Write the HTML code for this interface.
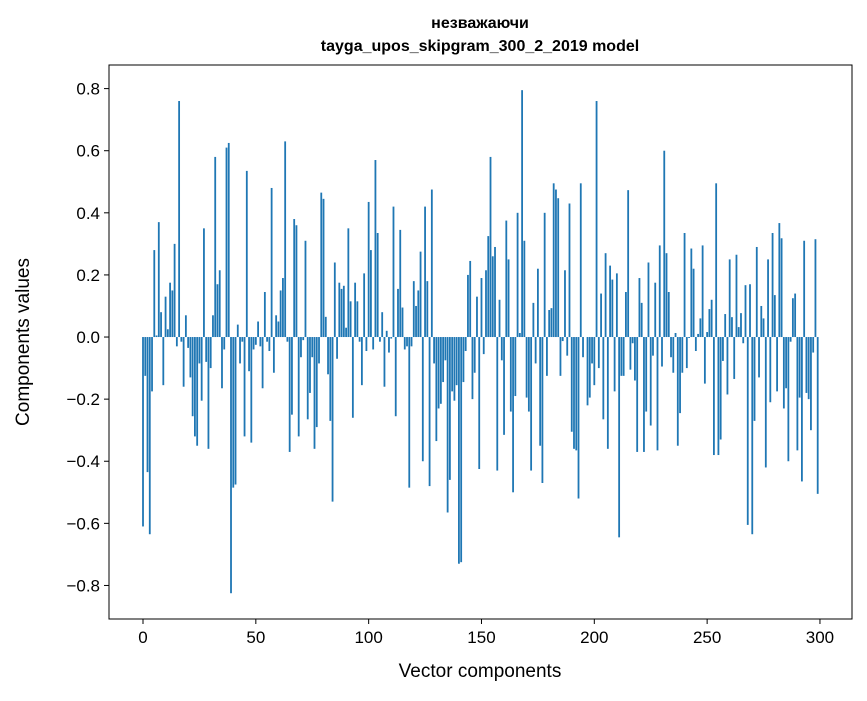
<!DOCTYPE html>
<html><head><meta charset="utf-8">
<style>
html,body{margin:0;padding:0;background:#fff;}
svg text{font-family:"Liberation Sans","DejaVu Sans",sans-serif;fill:#000;}
</style></head>
<body>
<svg id="chart" width="867" height="696" viewBox="0 0 867 696" xmlns="http://www.w3.org/2000/svg">
<rect x="0" y="0" width="867" height="696" fill="#fff"/>
<text x="480" y="28" text-anchor="middle" font-size="16" font-weight="bold">незважаючи</text>
<text x="480" y="51" text-anchor="middle" font-size="16" font-weight="bold">tayga_upos_skipgram_300_2_2019 model</text>
<g id="bars"></g>
<g id="xticks"></g>
<g id="yticks"></g>
<rect x="109" y="65" width="743" height="554" fill="none" stroke="#000" stroke-width="1"/>
<text x="480" y="677" text-anchor="middle" font-size="19">Vector components</text>
<text x="0" y="0" transform="translate(29,342) rotate(-90)" text-anchor="middle" font-size="19">Components values</text>
</svg>
<script>
const values = [
-0.61,-0.125,-0.435,-0.635,-0.175,0.28,0.005,0.37,0.08,-0.155,
0.13,0.025,0.175,0.15,0.30,-0.03,0.76,-0.015,-0.16,0.07,
-0.035,-0.13,-0.255,-0.32,-0.35,-0.085,-0.205,0.35,-0.08,-0.36,
-0.10,0.07,0.58,0.17,0.215,-0.165,-0.04,0.61,0.625,-0.825,
-0.485,-0.475,0.04,-0.085,-0.015,-0.32,0.535,-0.11,-0.34,-0.04,
-0.025,0.05,-0.03,-0.165,0.145,-0.015,-0.045,0.48,-0.115,0.07,
0.05,0.15,0.19,0.63,-0.015,-0.37,-0.25,0.38,0.36,-0.32,
-0.065,-0.01,0.31,-0.265,-0.18,-0.065,-0.36,-0.29,-0.085,0.465,
0.445,0.065,-0.12,-0.27,-0.53,0.24,-0.07,0.175,0.155,0.165,
0.03,0.35,0.115,-0.26,0.175,0.115,-0.015,-0.155,0.205,-0.045,
0.435,0.28,-0.04,0.57,0.335,-0.015,0.08,-0.16,0.02,-0.05,
-0.005,0.42,-0.255,0.155,0.345,0.095,-0.04,-0.03,-0.485,-0.03,
0.18,0.10,0.15,0.275,-0.40,0.42,0.18,-0.48,0.475,-0.085,
-0.335,-0.23,-0.215,-0.145,-0.075,-0.565,-0.46,-0.175,-0.205,-0.155,
-0.73,-0.725,-0.145,-0.045,0.20,0.245,-0.20,-0.115,0.13,-0.425,
0.19,-0.055,0.215,0.325,0.58,0.26,0.29,-0.43,0.12,-0.075,
-0.315,0.375,0.25,-0.24,-0.50,-0.19,0.40,0.013,0.795,0.31,
-0.195,-0.24,-0.43,0.11,-0.085,0.22,-0.35,-0.47,0.40,-0.125,
0.087,0.093,0.495,0.475,0.447,-0.125,-0.013,0.215,-0.06,0.43,
-0.305,-0.36,-0.365,-0.52,0.495,-0.065,0.0,-0.22,-0.195,-0.085,
-0.155,0.76,-0.10,0.14,-0.265,0.27,-0.36,0.23,0.185,-0.175,
0.205,-0.645,-0.125,-0.125,0.145,0.473,-0.105,-0.02,-0.14,-0.37,
0.19,0.11,-0.37,-0.24,0.24,-0.285,-0.06,0.175,-0.365,0.295,
-0.095,0.60,0.27,0.145,-0.065,-0.115,0.013,-0.35,-0.245,-0.115,
0.335,-0.10,-0.003,0.285,0.22,-0.045,0.01,0.06,0.295,-0.15,
0.016,0.09,0.12,-0.38,0.495,-0.38,-0.33,-0.077,0.074,-0.185,
0.25,0.064,-0.135,0.265,0.032,0.077,-0.02,0.167,-0.605,0.17,
-0.635,-0.27,0.29,-0.13,0.10,0.06,-0.42,0.25,-0.21,0.335,
0.135,-0.175,0.367,0.318,-0.23,-0.165,-0.40,-0.015,0.125,0.14,
-0.365,-0.195,-0.465,0.31,-0.18,-0.20,-0.30,-0.05,0.315,-0.505
];
const xTickValues = [0,50,100,150,200,250,300];
const xTickLabels = ["0","50","100","150","200","250","300"];
const yTickValues = [-0.8,-0.6,-0.4,-0.2,0,0.2,0.4,0.6,0.8];
const yTickLabels = ["\u22120.8","\u22120.6","\u22120.4","\u22120.2","0.0","0.2","0.4","0.6","0.8"];

const NS = "http://www.w3.org/2000/svg";
const L=109,R=852,T=65,B=619;
const xmin=-15.07, xmax=314.2;
const ymin=-0.908, ymax=0.876;
function xs(v){return L+(v-xmin)/(xmax-xmin)*(R-L);}
function ys(v){return T+(ymax-v)/(ymax-ymin)*(B-T);}

const barsG=document.getElementById('bars');
values.forEach((v,i)=>{
  const r=document.createElementNS(NS,'rect');
  const x0=xs(i-0.4), x1=xs(i+0.4);
  const y0=ys(Math.max(v,0)), y1=ys(Math.min(v,0));
  r.setAttribute('x',x0);
  r.setAttribute('width',x1-x0);
  r.setAttribute('y',y0);
  r.setAttribute('height',Math.max(y1-y0,0.01));
  r.setAttribute('fill','#1f77b4');
  
  
  barsG.appendChild(r);
});

const xg=document.getElementById('xticks');
xTickValues.forEach((v,i)=>{
  const x=xs(v);
  const l=document.createElementNS(NS,'line');
  l.setAttribute('x1',x);l.setAttribute('x2',x);l.setAttribute('y1',B);l.setAttribute('y2',B+5);
  l.setAttribute('stroke','#000');
  
  
  xg.appendChild(l);
  const t=document.createElementNS(NS,'text');
  t.setAttribute('x',x);t.setAttribute('y',B+24);
  t.setAttribute('text-anchor','middle');t.setAttribute('font-size','17');
  t.textContent=xTickLabels[i];
  
  
  xg.appendChild(t);
});
const yg=document.getElementById('yticks');
yTickValues.forEach((v,i)=>{
  const y=ys(v);
  const l=document.createElementNS(NS,'line');
  l.setAttribute('x1',L-5);l.setAttribute('x2',L);l.setAttribute('y1',y);l.setAttribute('y2',y);
  l.setAttribute('stroke','#000');
  
  
  yg.appendChild(l);
  const t=document.createElementNS(NS,'text');
  t.setAttribute('x',L-9);t.setAttribute('y',y+6);
  t.setAttribute('text-anchor','end');t.setAttribute('font-size','17');
  t.textContent=yTickLabels[i];
  
  
  yg.appendChild(t);
});
</script>
</body></html>
